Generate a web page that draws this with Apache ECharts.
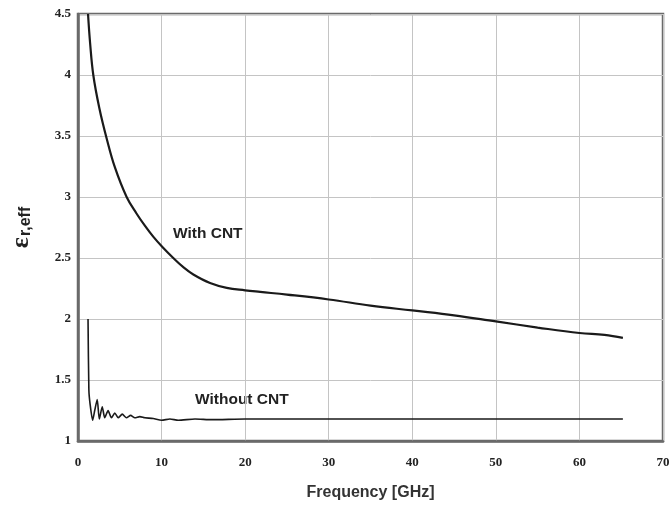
<!DOCTYPE html>
<html><head><meta charset="utf-8">
<script src="https://cdn.jsdelivr.net/npm/echarts@6/dist/echarts.min.js"></script>
<style>html,body{margin:0;padding:0;background:#fff}#c{width:672px;height:507px}</style>
</head><body><div id="c"></div>
<script>
var withX = [1.2, 1.45, 1.83, 2.55, 3.43, 4.43, 5.82, 7.0, 8.0, 9.0, 10.1, 11.4, 12.6, 13.8, 15.8, 17.8, 20, 21.8, 25, 30, 35, 40, 45, 50, 55, 60, 63, 65.2];
var withY = [4.5, 4.26, 4.0, 3.73, 3.48, 3.24, 3.0, 2.865, 2.765, 2.675, 2.59, 2.5, 2.425, 2.365, 2.295, 2.255, 2.235, 2.222, 2.2, 2.16, 2.11, 2.07, 2.03, 1.98, 1.93, 1.885, 1.87, 1.845];
var withoutX = [1.2, 1.3, 1.45, 1.75, 2.0, 2.3, 2.55, 2.9, 3.2, 3.6, 4.0, 4.4, 4.8, 5.3, 5.8, 6.3, 6.8, 7.4, 8, 9, 10, 11, 12, 14, 16, 20, 25, 30, 35, 40, 45, 50, 55, 60, 65.2];
var withoutY = [2.0, 1.42, 1.3, 1.17, 1.25, 1.34, 1.18, 1.28, 1.19, 1.25, 1.19, 1.23, 1.19, 1.22, 1.19, 1.21, 1.19, 1.2, 1.19, 1.185, 1.17, 1.18, 1.17, 1.18, 1.175, 1.18, 1.18, 1.18, 1.18, 1.18, 1.18, 1.18, 1.18, 1.18, 1.18];
var yTicks = ['1', '1.5', '2', '2.5', '3', '3.5', '4', '4.5'];
var labelWith = 'With CNT';
var labelWithout = 'Without CNT';

function zip(a, b) { return a.map(function (v, i) { return [v, b[i]]; }); }

var chart = echarts.init(document.getElementById('c'));
var tickFont = { fontFamily: 'Liberation Serif', fontWeight: 'bold', fontSize: 13, color: '#222' };
chart.setOption({
  animation: false,
  grid: { left: 78, right: 9, top: 14, bottom: 66, containLabel: false, outerBoundsMode: 'none', show: true, borderColor: '#6a6a6a', borderWidth: 2.5, backgroundColor: 'transparent' },
  xAxis: {
    type: 'value', min: 0, max: 70, interval: 10,
    name: 'Frequency [GHz]', nameLocation: 'middle', nameGap: 44,
    nameTextStyle: { fontFamily: 'Liberation Sans', fontWeight: 'bold', fontSize: 16, color: '#333' },
    axisLine: { show: true, lineStyle: { color: '#6a6a6a', width: 2.5 } },
    axisTick: { show: false },
    axisLabel: Object.assign({ margin: 15 }, tickFont),
    splitLine: { show: true, lineStyle: { color: '#c4c4c4', width: 1 } }
  },
  yAxis: {
    type: 'value', min: 1, max: 4.5, interval: 0.5,
    name: '{e|ε}{s|r,eff}', nameLocation: 'middle', nameGap: 44, nameRotate: 90,
    nameTextStyle: {
      rich: {
        e: { fontFamily: 'Liberation Serif', fontWeight: 'bold', fontSize: 26, color: '#222', verticalAlign: 'middle' },
        s: { fontFamily: 'Liberation Sans', fontWeight: 'bold', fontSize: 16, color: '#222', verticalAlign: 'bottom', padding: [10, 0, 0, 1] }
      }
    },
    axisLine: { show: true, lineStyle: { color: '#6a6a6a', width: 2.5 } },
    axisTick: { show: false },
    axisLabel: Object.assign({ margin: 7, formatter: function (v) { var i = Math.round((v - 1) * 2); return yTicks[i]; } }, tickFont),
    splitLine: { show: true, lineStyle: { color: '#c4c4c4', width: 1 } }
  },
  graphic: [
    { type: 'text', left: 173, top: 226, style: { text: labelWith, fontFamily: 'Liberation Sans', fontWeight: 'bold', fontSize: 15.5, fill: '#222' } },
    { type: 'text', left: 195, top: 392, style: { text: labelWithout, fontFamily: 'Liberation Sans', fontWeight: 'bold', fontSize: 15.5, fill: '#222' } }
  ],
  series: [
    { type: 'line', data: zip(withX, withY), smooth: 0.4, symbol: 'none', lineStyle: { color: '#1a1a1a', width: 2.2 } },
    { type: 'line', data: zip(withoutX, withoutY), smooth: 0.2, symbol: 'none', lineStyle: { color: '#1a1a1a', width: 1.6 } }
  ]
});
</script></body></html>
